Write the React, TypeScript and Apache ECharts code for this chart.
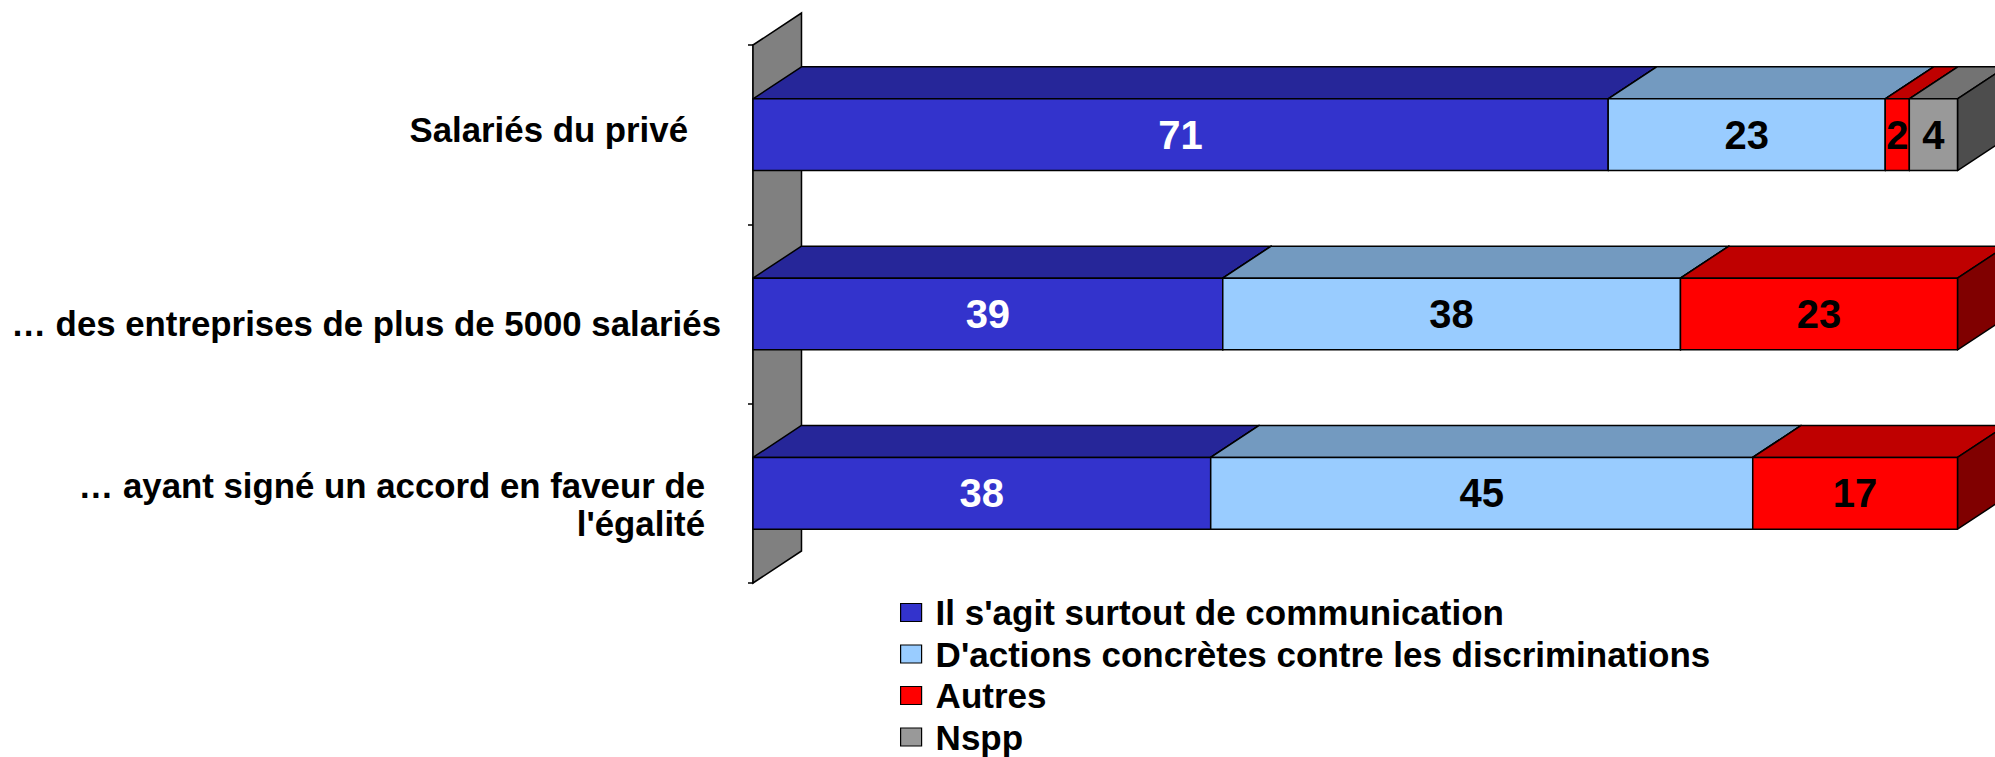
import React, { useEffect, useRef } from "react";
import * as echarts from "echarts";

const categories = [
  "Salariés du privé",
  "… des entreprises de plus de 5000 salariés",
  "… ayant signé un accord en faveur de l'égalité",
];
const seriesNames = [
  "Il s'agit surtout de communication",
  "D'actions concrètes contre les discriminations",
  "Autres",
  "Nspp",
];
const communication = [71, 39, 38];
const actions = [23, 38, 45];
const autres = [2, 23, 17];
const nspp = [4, 0, 0];
const seriesValues = [communication, actions, autres, nspp];
const axisMin = 0;
const axisMax = 100;

const FRONT = ["#3333CC", "#99CCFF", "#FF0000", "#999999"];
const TOP = ["#262699", "#739AC0", "#BF0000", "#737373"];
const SIDE = ["#1A1A66", "#4D6680", "#800000", "#4D4D4D"];
const LABEL_COLORS = ["#FFFFFF", "#000000", "#000000", "#000000"];
const DX = 48.5;
const DY = -32;
const FONT = '"Liberation Sans", Arial, Helvetica, sans-serif';

export default function App() {
  const ref = useRef<HTMLDivElement>(null);
  useEffect(() => {
    if (!ref.current) return;
    const chart = echarts.init(ref.current, null, { renderer: "svg" });

    const barSeries = seriesValues.map((vals, s) => {
      const data = vals.map((v, c) => {
        let start = 0;
        for (let k = 0; k < s; k++) start += seriesValues[k][c];
        return [start, start + v, c, v];
      });
      return {
        type: "custom",
        name: seriesNames[s],
        itemStyle: { color: FRONT[s] },
        encode: { x: [0, 1], y: 2 },
        data,
        z: 3,
        renderItem: (params: any, api: any) => {
          const start = api.value(0);
          const end = api.value(1);
          const cat = api.value(2);
          const v = api.value(3);
          if (!v) return { type: "group", children: [] };
          const p0 = api.coord([start, cat]);
          const p1 = api.coord([end, cat]);
          const band = api.size([0, 1])[1];
          const h = band * 0.4;
          const x0 = p0[0];
          const x1 = p1[0];
          const top = p0[1] - h / 2;
          const bottom = top + h;
          const stroke = { stroke: "#000", lineWidth: 1.5, lineJoin: "round" };
          return {
            type: "group",
            children: [
              {
                type: "polygon",
                shape: { points: [[x0, top], [x1, top], [x1 + DX, top + DY], [x0 + DX, top + DY]] },
                style: { fill: TOP[s], ...stroke },
              },
              {
                type: "polygon",
                shape: { points: [[x1, top], [x1 + DX, top + DY], [x1 + DX, bottom + DY], [x1, bottom]] },
                style: { fill: SIDE[s], ...stroke },
              },
              {
                type: "rect",
                shape: { x: x0, y: top, width: x1 - x0, height: h },
                style: { fill: FRONT[s], ...stroke },
              },
              {
                type: "text",
                x: (x0 + x1) / 2,
                y: top + h / 2,
                style: {
                  text: String(v),
                  fill: LABEL_COLORS[s],
                  fontSize: 40,
                  fontWeight: "bold",
                  fontFamily: FONT,
                  align: "center",
                  verticalAlign: "middle",
                },
              },
            ],
          };
        },
      };
    });

    const wallSeries = {
      type: "custom",
      name: "wall",
      itemStyle: { color: "#808080" },
      encode: { x: 0, y: 1 },
      data: [[0, 0]],
      z: 2,
      renderItem: (params: any) => {
        const cs = params.coordSys;
        const x0 = cs.x;
        const yT = cs.y;
        const yB = cs.y + cs.height;
        return {
          type: "polygon",
          shape: { points: [[x0, yT], [x0 + DX, yT + DY], [x0 + DX, yB + DY], [x0, yB]] },
          style: { fill: "#808080", stroke: "#000", lineWidth: 1.5 },
        };
      },
    };

    const labelBase = { fontSize: 34.8, fontWeight: "bold", fontFamily: FONT, color: "#000" };

    chart.setOption({
      animation: false,
      backgroundColor: "#FFFFFF",
      grid: { left: 753, right: 37.5, top: 45, bottom: 174, containLabel: false },
      xAxis: { type: "value", min: axisMin, max: axisMax, show: false },
      yAxis: {
        type: "category",
        data: categories,
        inverse: true,
        axisLine: { show: true, lineStyle: { color: "#000", width: 1.5 } },
        axisTick: { show: true, length: 5, lineStyle: { color: "#000", width: 1.5 } },
        splitLine: { show: false },
        axisLabel: {
          margin: 32,
          formatter: (value: string, idx: number) => {
            if (idx === 0) return `{a|${value}}\n{sa| }`;
            if (idx === 1) return `{sb| }\n{b|${value}}`;
            const cut = value.lastIndexOf(" ");
            return `{sc| }\n{c|${value.slice(0, cut)}}\n{c|${value.slice(cut + 1)}}`;
          },
          rich: {
            a: { ...labelBase, lineHeight: 40, padding: [0, 33, 0, 0] },
            sa: { fontSize: 8, lineHeight: 10 },
            b: { ...labelBase, lineHeight: 40 },
            sb: { fontSize: 8, lineHeight: 18 },
            c: { ...labelBase, lineHeight: 38, padding: [0, 16, 0, 0] },
            sc: { fontSize: 8, lineHeight: 22 },
          },
        },
      },
      legend: {
        data: seriesNames,
        orient: "vertical",
        left: 900,
        top: 595,
        height: 240,
        padding: 0,
        itemWidth: 21,
        itemHeight: 18,
        itemGap: 6.5,
        icon: "rect",
        selectedMode: false,
        itemStyle: { borderColor: "#000", borderWidth: 1.2 },
        textStyle: {
          fontSize: 35,
          fontWeight: "bold",
          fontFamily: FONT,
          color: "#000",
          lineHeight: 20,
          padding: [0, 0, 0, 9],
        },
      },
      series: [wallSeries, ...barSeries],
    });
    return () => chart.dispose();
  }, []);
  return (
    <div
      ref={ref}
      style={{ position: "fixed", left: 0, top: 0, width: 1995, height: 757 }}
    />
  );
}
